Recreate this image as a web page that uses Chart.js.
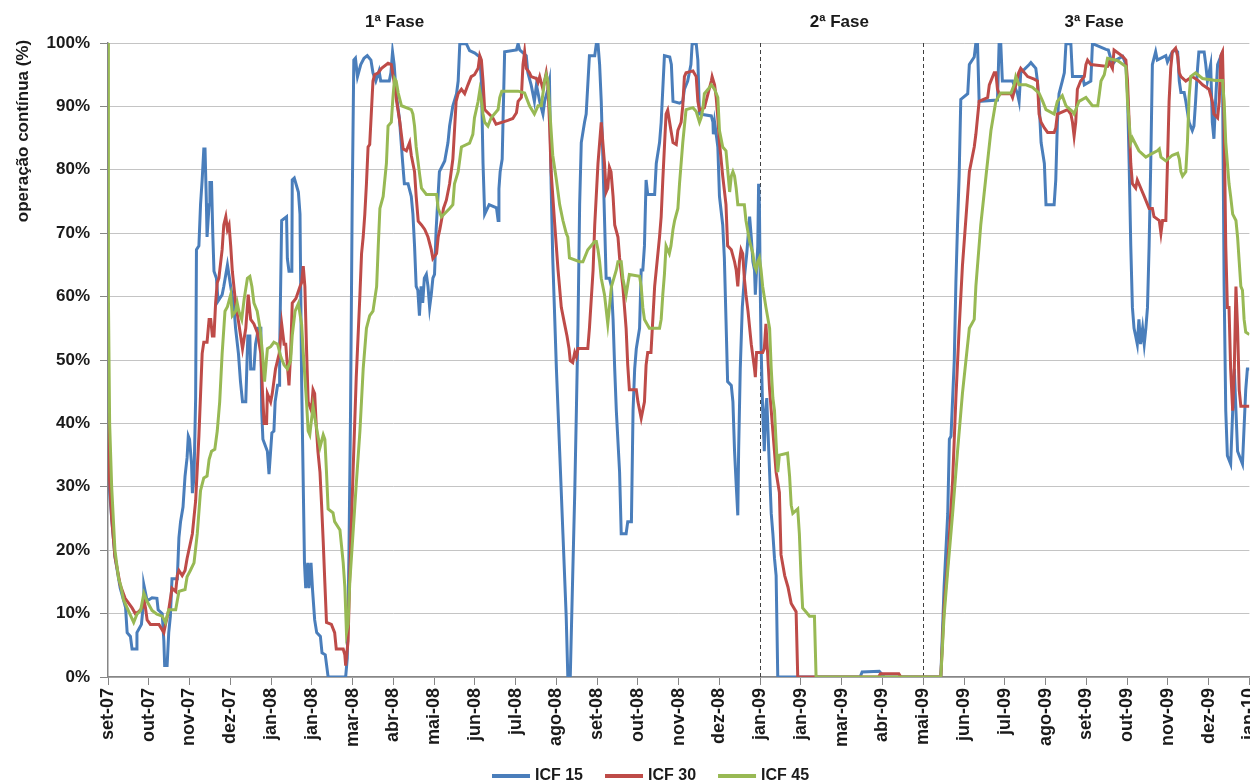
<!DOCTYPE html>
<html lang="pt">
<head>
  <meta charset="UTF-8">
  <title>Operação contínua - ICF</title>
  <script src="https://cdn.jsdelivr.net/npm/chart.js"></script>
  <style>
    html, body { margin: 0; padding: 0; background: #fff; overflow: hidden; }
    #wrap { width: 1274px; height: 784px; position: relative; }
  </style>
</head>
<body>
  <div id="wrap"><canvas id="icfChart"></canvas></div>

  <script>
    // eixo x: um tick por mês (índice 0 = set-07)
    const monthLabels = ['set-07', 'out-07', 'nov-07', 'dez-07', 'jan-08', 'jan-08', 'mar-08', 'abr-08',
      'mai-08', 'jun-08', 'jul-08', 'ago-08', 'set-08', 'out-08', 'nov-08', 'dez-08', 'jan-09', 'jan-09',
      'mar-09', 'abr-09', 'mai-09', 'jun-09', 'jul-09', 'ago-09', 'set-09', 'out-09', 'nov-09', 'dez-09', 'jan-10'];

    const phaseNames = ['1ª Fase', '2ª Fase', '3ª Fase'];
    const phaseBounds = [16, 20];

    // [mês, %]
    const icf15 = [[0,38],[0.03,30],[0.09,25],[0.17,19],[0.30,14],[0.43,11],[0.47,7],[0.55,6.4],[0.59,4.4],[0.69,4.4],[0.71,7],[0.82,8.3],[0.86,11],[0.88,14.5],[0.96,12],[1.08,12.5],[1.20,12.4],[1.23,10.6],[1.33,10],[1.37,5.7],[1.39,1.8],[1.45,1.8],[1.49,7],[1.53,9.6],[1.57,15.5],[1.70,15.5],[1.74,22],[1.78,24.5],[1.84,26.8],[1.89,31.7],[1.94,34.6],[1.97,38],[2.00,37.5],[2.05,33.6],[2.07,29],[2.11,31.5],[2.15,44],[2.17,67.4],[2.23,68],[2.27,74.5],[2.31,78.4],[2.35,83.3],[2.38,83.3],[2.41,75.8],[2.43,69.4],[2.48,74.5],[2.50,78],[2.54,78],[2.57,70],[2.60,64],[2.66,62.9],[2.70,59.3],[2.80,60.3],[2.84,61.6],[2.93,65],[3.01,61.6],[3.09,58.3],[3.13,55],[3.20,51],[3.25,46.6],[3.30,43.4],[3.38,43.4],[3.43,53.8],[3.48,53.8],[3.50,48.6],[3.58,48.6],[3.62,52.5],[3.69,55],[3.75,55],[3.77,42],[3.80,37.5],[3.91,35.6],[3.95,32],[4.02,38.5],[4.07,38.8],[4.10,43.4],[4.16,46],[4.20,46],[4.21,51],[4.26,72],[4.38,72.6],[4.40,66],[4.44,64],[4.51,64],[4.52,78.4],[4.57,78.7],[4.67,76.5],[4.71,73],[4.75,46.6],[4.82,18],[4.85,14],[4.90,18],[4.93,14],[4.98,18],[5.02,13.5],[5.07,9],[5.12,7],[5.21,6.4],[5.25,3.8],[5.33,3.5],[5.40,0],[5.83,0],[5.87,3],[5.91,19],[5.95,42],[5.99,74.5],[6.03,97.3],[6.07,97.6],[6.12,94.7],[6.20,96.6],[6.28,97.6],[6.36,98],[6.45,97.3],[6.50,95.3],[6.57,94],[6.65,95.6],[6.69,94],[6.90,94],[6.94,95.3],[6.98,98.6],[7.02,96.6],[7.07,92],[7.15,88],[7.23,81],[7.27,77.8],[7.36,77.8],[7.44,75.8],[7.48,73],[7.52,68],[7.56,61.6],[7.60,61],[7.64,57],[7.68,61.6],[7.72,59],[7.76,62.9],[7.81,63.5],[7.85,61.6],[7.89,58.3],[7.93,60.3],[7.97,62.9],[8.01,63.5],[8.05,70.6],[8.13,79.7],[8.26,81.4],[8.34,84.3],[8.38,86.9],[8.46,90.1],[8.55,92],[8.59,94],[8.63,99.9],[8.79,99.9],[8.87,98.8],[9.00,98.4],[9.12,97.8],[9.16,94],[9.20,81],[9.24,73],[9.35,74.5],[9.53,74],[9.57,72],[9.59,77],[9.62,79.7],[9.67,81.7],[9.69,87.5],[9.73,98.6],[10.02,98.9],[10.06,99.9],[10.10,98.9],[10.26,98],[10.30,95.3],[10.38,93.4],[10.46,90.8],[10.51,93.4],[10.59,90.8],[10.67,88.8],[10.71,90.8],[10.79,92.7],[10.83,94],[10.87,77.8],[10.91,66.1],[11.00,48.6],[11.08,35.6],[11.16,22.6],[11.24,9.6],[11.28,0],[11.34,0],[11.40,16],[11.45,29.1],[11.49,42],[11.53,55.7],[11.57,74.5],[11.61,84.3],[11.69,87.5],[11.73,88.8],[11.81,98],[11.94,98],[11.98,99.9],[12.02,99.9],[12.06,96.6],[12.10,90.8],[12.14,81.7],[12.22,62.9],[12.30,62.9],[12.35,61.6],[12.39,56.4],[12.43,48.6],[12.47,42],[12.55,32.3],[12.59,22.6],[12.71,22.6],[12.75,24.5],[12.84,24.5],[12.88,42],[12.92,48.6],[12.96,51.8],[13.04,55],[13.08,64.2],[13.12,64.2],[13.16,68],[13.20,78.4],[13.24,76.1],[13.41,76.1],[13.45,81],[13.53,84.3],[13.57,87.5],[13.65,98],[13.78,97.8],[13.82,96.6],[13.86,90.8],[14.02,90.5],[14.10,90.8],[14.14,92.7],[14.22,94],[14.30,96.6],[14.33,99.9],[14.43,99.9],[14.47,97.3],[14.51,88.8],[14.80,88.5],[14.84,87.5],[14.85,85.6],[14.88,87.5],[14.92,85.6],[14.96,83.6],[15.00,75.8],[15.08,71.3],[15.12,66.1],[15.16,56.4],[15.20,46.6],[15.29,46],[15.33,43.4],[15.37,35.6],[15.41,30.4],[15.45,25.5],[15.47,35.6],[15.51,48.6],[15.56,58.3],[15.61,62.9],[15.67,66.8],[15.74,72.6],[15.78,69.4],[15.82,65.5],[15.86,64.2],[15.88,60.3],[15.91,64.2],[15.94,68],[15.96,77.8],[15.98,74.5],[16.00,61.6],[16.02,52.5],[16.06,42],[16.10,35.6],[16.13,42],[16.16,44],[16.19,38.8],[16.23,32.3],[16.27,25.8],[16.31,22.6],[16.35,18.7],[16.39,16],[16.43,0],[18.45,0],[18.50,0.8],[18.92,0.9],[19.00,0.3],[19.05,0],[20.43,0],[20.51,14.2],[20.60,25.8],[20.64,37.5],[20.68,38],[20.76,49.9],[20.80,62.2],[20.84,71.3],[20.88,79.1],[20.92,91.1],[21.09,92],[21.13,96.6],[21.25,97.8],[21.29,100],[21.33,100],[21.37,90.8],[21.82,91],[21.86,99.9],[21.90,100],[21.94,94],[22.19,94],[22.31,92],[22.35,90.8],[22.39,95.3],[22.60,96.6],[22.64,96.9],[22.76,96],[22.80,94],[22.84,90.8],[22.89,84.3],[22.97,81],[23.01,74.5],[23.21,74.5],[23.25,78.4],[23.29,87.5],[23.33,92],[23.41,94],[23.46,95.3],[23.50,99.9],[23.62,99.9],[23.66,94.7],[23.91,94.7],[23.95,93.4],[24.03,93.7],[24.11,94],[24.15,99.9],[24.48,99],[24.54,98.9],[24.64,96.6],[24.72,97.3],[24.89,97.9],[24.97,96.6],[25.01,92],[25.05,81],[25.09,68],[25.13,58.3],[25.17,55],[25.21,53.8],[25.25,52.5],[25.29,56.4],[25.33,52.5],[25.38,55],[25.42,52.5],[25.46,55],[25.50,58.3],[25.54,68],[25.58,81],[25.62,96.6],[25.70,98.6],[25.74,97.3],[25.95,98],[25.99,97],[26.11,98.6],[26.19,98.9],[26.24,98.6],[26.28,94],[26.32,92.2],[26.40,92.2],[26.44,90.8],[26.52,87.5],[26.60,86.2],[26.64,86.9],[26.68,90.8],[26.72,95.3],[26.76,98.6],[26.89,98.6],[26.93,96.6],[26.97,94],[27.01,95.3],[27.05,96.6],[27.09,87.5],[27.13,84.9],[27.17,90.8],[27.22,96.6],[27.30,97.9],[27.34,95.3],[27.38,61.6],[27.42,42],[27.46,34.9],[27.54,33.6],[27.59,42],[27.63,48.6],[27.67,42],[27.71,35.6],[27.83,33.6],[27.91,45.3],[27.95,48.6],[28.0,48.6]];

    const icf30 = [[0,45],[0.03,32],[0.09,25],[0.17,19],[0.30,14.5],[0.42,12.4],[0.59,10.9],[0.67,10],[0.75,10.3],[0.84,10.9],[0.88,12.2],[0.92,10.9],[0.96,9],[1.04,8.3],[1.25,8.3],[1.37,7],[1.41,8.3],[1.49,10.6],[1.57,14],[1.66,13.5],[1.70,16],[1.74,16.8],[1.82,16],[1.89,16.8],[1.94,18.7],[2.07,22.6],[2.15,27.8],[2.23,38],[2.31,51],[2.35,52.8],[2.43,52.8],[2.48,56.4],[2.52,56.4],[2.56,53.8],[2.60,53.8],[2.64,59],[2.68,62.2],[2.72,62.9],[2.80,67.4],[2.84,71.3],[2.89,72.6],[2.93,70.6],[2.97,71.3],[3.01,68],[3.05,64],[3.13,59],[3.21,55.7],[3.30,51.8],[3.38,55],[3.44,60.3],[3.50,56.4],[3.58,55.7],[3.66,54.4],[3.75,51],[3.79,45],[3.83,40],[3.89,40],[3.91,44.7],[3.99,43.4],[4.03,44.7],[4.11,48.6],[4.20,51],[4.26,55.7],[4.32,52.5],[4.36,52.5],[4.44,46],[4.48,51],[4.52,59],[4.61,59.7],[4.71,61.6],[4.75,62.2],[4.79,64.8],[4.83,61.6],[4.87,51.8],[4.91,43.4],[4.99,42],[5.03,45.3],[5.07,44.7],[5.11,39.5],[5.15,35.6],[5.20,32.3],[5.24,27.1],[5.28,21.3],[5.32,14.8],[5.36,8.6],[5.48,8.3],[5.56,7],[5.60,4.4],[5.77,4.4],[5.81,3.5],[5.83,1.8],[5.89,5.7],[5.93,16],[6.01,32],[6.09,47.3],[6.18,60.3],[6.22,66.8],[6.26,69.4],[6.30,73],[6.34,77.8],[6.38,83.6],[6.42,84],[6.50,94],[6.54,95],[6.63,95.3],[6.71,96],[6.87,96.8],[6.95,96.6],[7.03,93.4],[7.08,90.8],[7.16,87.5],[7.24,83.3],[7.32,83],[7.40,84.3],[7.44,82.3],[7.52,79.7],[7.56,75.8],[7.61,71.9],[7.69,71.3],[7.77,70.6],[7.85,69.4],[7.93,67.4],[7.97,66],[8.06,66.8],[8.10,69.4],[8.14,70.6],[8.18,72],[8.23,73.9],[8.30,75.2],[8.38,77.8],[8.46,81.7],[8.50,86.2],[8.54,90.8],[8.59,92],[8.67,92.7],[8.75,92],[8.83,93.4],[8.91,94.7],[8.99,95],[9.08,96],[9.12,98],[9.16,97.3],[9.20,94],[9.24,89.5],[9.44,88.2],[9.52,87.2],[9.81,87.8],[9.93,88.1],[10.02,89],[10.06,90.8],[10.14,91.4],[10.18,96.6],[10.22,98.6],[10.26,96],[10.34,95.3],[10.38,94.7],[10.51,94.4],[10.55,93.8],[10.59,94.7],[10.67,92.7],[10.75,95.3],[10.79,93.4],[10.83,87.5],[10.87,79.7],[10.96,71.3],[11.04,64.2],[11.12,58.3],[11.20,55.7],[11.26,53.8],[11.31,51.8],[11.34,49.9],[11.40,49.6],[11.45,51.2],[11.49,50.5],[11.53,51.8],[11.77,51.8],[11.81,55],[11.90,64.2],[11.94,71.3],[12.02,81],[12.10,87.5],[12.18,81],[12.22,76.5],[12.26,77.1],[12.30,80.4],[12.34,79.7],[12.39,75.8],[12.43,71.3],[12.51,69.4],[12.55,66.1],[12.63,61.6],[12.67,58.3],[12.71,55],[12.75,49.2],[12.79,45.3],[12.96,45.3],[13.00,43.4],[13.08,40.8],[13.16,43.4],[13.20,49.2],[13.24,51.2],[13.32,51.2],[13.41,61.6],[13.45,64.2],[13.53,69.4],[13.57,72.6],[13.61,78.4],[13.65,83.6],[13.69,88.8],[13.73,89.4],[13.81,86.2],[13.86,84.3],[13.94,84],[13.98,86.2],[14.06,87.5],[14.10,90.1],[14.14,94.7],[14.18,95.3],[14.35,95.6],[14.43,94.7],[14.47,90.8],[14.51,89.4],[14.63,89.8],[14.72,92],[14.80,94],[14.82,94.7],[14.88,93.4],[14.92,91.4],[14.96,88.2],[15.00,84.3],[15.08,79],[15.16,74.5],[15.20,68],[15.29,67.4],[15.37,65.5],[15.41,64.2],[15.45,61.6],[15.49,65.5],[15.53,67.4],[15.57,66.8],[15.61,62.9],[15.65,60.3],[15.70,57.7],[15.78,52.5],[15.86,48.6],[15.88,47.3],[15.91,51.2],[16.06,51.2],[16.10,51.8],[16.14,55.7],[16.18,51.2],[16.23,45.3],[16.31,38.8],[16.39,32.3],[16.47,29.1],[16.51,19.3],[16.60,16],[16.68,14.2],[16.76,11.6],[16.88,10.3],[16.92,0],[18.90,0],[18.95,0.5],[19.40,0.5],[19.45,0],[20.43,0],[20.51,10.9],[20.60,18],[20.72,31],[20.80,44],[20.88,55],[20.96,64.8],[21.13,79.7],[21.25,83.6],[21.29,85.6],[21.37,90.8],[21.58,91.4],[21.62,93.4],[21.74,95.3],[21.78,95.3],[21.82,92.7],[21.86,92],[22.15,92],[22.19,91.4],[22.27,93.4],[22.34,95.3],[22.39,96],[22.56,94.7],[22.72,94.3],[22.80,94],[22.84,88.8],[22.89,87.5],[22.97,86.6],[23.05,85.9],[23.21,85.9],[23.25,86.6],[23.29,88.8],[23.54,89.5],[23.62,88.8],[23.66,87.5],[23.70,85.3],[23.74,87.5],[23.78,92.7],[23.86,94],[23.95,94.7],[23.99,96.6],[24.03,97.3],[24.11,96.6],[24.52,96.3],[24.56,97],[24.64,96],[24.68,98.9],[24.89,97.9],[24.97,97.3],[25.01,94],[25.05,87.5],[25.09,81],[25.13,77.8],[25.21,77.1],[25.25,78.4],[25.29,77.8],[25.42,75.8],[25.54,73.9],[25.62,73.9],[25.66,72.6],[25.79,72],[25.83,70],[25.87,72],[25.95,72],[25.99,81],[26.03,90.8],[26.07,96],[26.11,98.6],[26.19,99.2],[26.24,97.9],[26.28,95.3],[26.32,94.7],[26.44,94],[26.60,94.7],[26.76,94],[26.85,93.4],[27.01,92.7],[27.09,90.8],[27.13,88.8],[27.22,88.2],[27.26,90.8],[27.30,98],[27.34,98.6],[27.38,87.5],[27.42,68],[27.46,58.3],[27.50,58.3],[27.54,48.6],[27.59,42],[27.63,48.6],[27.67,61.6],[27.71,55],[27.75,45.3],[27.79,42.7],[28.0,42.7]];

    const icf45 = [[0,100],[0.01,60],[0.04,40],[0.09,30],[0.17,20],[0.26,15.5],[0.31,14.5],[0.38,12.2],[0.51,10.3],[0.63,8.6],[0.71,9.9],[0.80,10.5],[0.88,13.2],[0.96,11.9],[1.08,10.5],[1.20,9.9],[1.33,9.6],[1.41,8.6],[1.49,10.6],[1.66,10.6],[1.74,13.5],[1.89,13.8],[1.94,15.8],[2.02,16.8],[2.11,18],[2.19,22.6],[2.27,29.4],[2.35,31.4],[2.43,31.7],[2.48,34.3],[2.54,35.6],[2.62,35.9],[2.68,38.8],[2.74,43.4],[2.80,51],[2.87,57.7],[2.93,58.4],[3.01,60.3],[3.05,57],[3.13,57.7],[3.17,59],[3.21,57.7],[3.28,56.4],[3.34,59.6],[3.42,62.9],[3.48,63.2],[3.53,61.6],[3.58,59],[3.66,57.7],[3.73,55],[3.79,51],[3.84,46.6],[3.91,51.8],[3.99,52.1],[4.07,52.8],[4.16,52.5],[4.24,50.5],[4.32,49.2],[4.40,48.6],[4.48,49.9],[4.52,53.9],[4.59,57.7],[4.67,58.9],[4.75,55.6],[4.79,51.2],[4.83,47.3],[4.87,43.4],[4.91,38.8],[4.95,38.2],[5.03,42.7],[5.11,39.5],[5.20,36.2],[5.28,38.2],[5.32,37.5],[5.36,32.3],[5.40,26.5],[5.52,25.9],[5.56,24.5],[5.69,23.2],[5.73,20.6],[5.77,18],[5.81,14.2],[5.85,7],[5.89,8.3],[5.93,14.8],[6.01,22.6],[6.09,30.4],[6.18,38.8],[6.26,48.6],[6.34,55],[6.42,57],[6.50,57.7],[6.59,61.6],[6.63,68],[6.67,73.9],[6.75,75.8],[6.83,81],[6.87,86.9],[6.95,87.5],[6.99,91.4],[7.03,94.4],[7.07,94],[7.12,92.1],[7.20,90.1],[7.44,89.5],[7.48,88.8],[7.52,86.9],[7.56,83.6],[7.65,79],[7.69,77.1],[7.81,76.1],[8.06,76.1],[8.10,73.9],[8.18,72.6],[8.38,73.9],[8.46,74.5],[8.50,77.8],[8.59,79.7],[8.67,83.6],[8.87,84.2],[8.95,85.6],[8.99,88.2],[9.08,90.8],[9.12,92.5],[9.16,91],[9.20,88.8],[9.24,87.5],[9.32,86.9],[9.40,88.2],[9.57,89.5],[9.61,91.4],[9.66,92.4],[10.06,92.4],[10.22,92.1],[10.34,90.1],[10.46,88.8],[10.55,90.1],[10.63,90.1],[10.71,94],[10.75,95],[10.79,94],[10.83,90.1],[10.91,82.3],[11.00,78.4],[11.08,74.5],[11.16,72],[11.24,70],[11.28,69.4],[11.32,66.1],[11.57,65.5],[11.65,65.5],[11.77,67.4],[11.94,68.7],[11.98,68.7],[12.02,67.4],[12.06,65.5],[12.10,62.9],[12.18,60.3],[12.26,55.7],[12.35,61.6],[12.47,64.2],[12.51,65.5],[12.59,65.5],[12.63,62.9],[12.71,60.3],[12.79,63.5],[13.04,63.2],[13.08,61.6],[13.12,58.3],[13.16,56.4],[13.28,55],[13.53,55],[13.57,56.4],[13.61,60.3],[13.65,63.5],[13.69,68],[13.77,66.8],[13.81,68],[13.86,70.6],[13.90,72],[13.98,73.9],[14.02,77.8],[14.10,84.3],[14.18,89.5],[14.35,89.8],[14.43,89.2],[14.51,87.5],[14.55,88.2],[14.59,89.5],[14.63,92],[14.72,92.7],[14.80,93.4],[14.88,92.7],[14.96,91.4],[15.00,86.2],[15.08,83.6],[15.16,83],[15.25,76.5],[15.29,79],[15.33,79.7],[15.37,79],[15.41,77.1],[15.45,74.5],[15.61,74.5],[15.65,72],[15.74,68.7],[15.82,66.8],[15.86,64.8],[15.90,64.2],[15.94,65.5],[15.98,66.1],[16.02,64.2],[16.06,61.6],[16.14,58.3],[16.23,55],[16.27,48.6],[16.31,44],[16.35,42],[16.39,36.9],[16.43,32.3],[16.47,35],[16.67,35.3],[16.72,31.7],[16.76,27.1],[16.80,25.8],[16.92,26.5],[16.96,22.6],[17.00,16],[17.04,10.9],[17.12,10.3],[17.21,9.6],[17.33,9.6],[17.37,0],[20.43,0],[20.51,9.6],[20.60,16.8],[20.72,25.8],[20.84,35.6],[20.96,44.7],[21.13,55],[21.25,56.4],[21.29,61.6],[21.41,71.3],[21.54,79.1],[21.66,86.2],[21.78,90.8],[21.90,92.1],[22.15,92.1],[22.23,93.4],[22.27,94.7],[22.35,93.4],[22.52,93.4],[22.68,93],[22.84,92.1],[22.93,90.8],[23.01,89.5],[23.21,88.8],[23.29,90.8],[23.41,91.7],[23.50,90.1],[23.66,89.2],[23.70,88.8],[23.82,90.8],[23.99,91.4],[24.15,90.1],[24.28,90.1],[24.32,92],[24.36,94],[24.44,95],[24.52,97.6],[24.77,97.2],[24.97,96.3],[25.01,90.8],[25.05,87.5],[25.09,84.3],[25.13,85],[25.29,83],[25.46,82],[25.62,82.6],[25.74,83],[25.79,83.3],[25.83,82],[25.95,81.4],[26.11,82.3],[26.24,82.6],[26.28,81.7],[26.32,79.7],[26.36,79],[26.44,79.7],[26.48,84.3],[26.52,91.4],[26.56,94.7],[26.68,95.3],[26.85,94.4],[27.17,94.1],[27.34,94.1],[27.38,90.8],[27.42,84.3],[27.50,77.8],[27.54,75.8],[27.59,73],[27.67,72],[27.71,69.4],[27.75,65.5],[27.79,61.6],[27.83,61],[27.87,56.4],[27.91,54.4],[28.0,54]];

    const FONT = "'Liberation Sans', Arial, sans-serif";
    const toPoints = arr => arr.map(p => ({ x: p[0], y: p[1] }));

    const series = [
      { label: 'ICF 15', data: icf15, color: '#4a7ebb' },
      { label: 'ICF 30', data: icf30, color: '#be4b48' },
      { label: 'ICF 45', data: icf45, color: '#98b954' }
    ];

    // linhas de fase, títulos, título do eixo y e legenda
    const extras = {
      id: 'extras',
      beforeDatasetsDraw(chart) {
        const { ctx, chartArea: a, scales: { x } } = chart;
        ctx.save();
        ctx.strokeStyle = '#404040';
        ctx.lineWidth = 1;
        ctx.setLineDash([4, 3]);
        phaseBounds.forEach(m => {
          const px = Math.round(x.getPixelForValue(m)) + 0.5;
          ctx.beginPath();
          ctx.moveTo(px, a.top);
          ctx.lineTo(px, a.bottom);
          ctx.stroke();
        });
        ctx.restore();
      },
      afterDraw(chart) {
        const { ctx, scales: { x } } = chart;
        ctx.save();
        ctx.fillStyle = '#1a1a1a';
        ctx.font = 'bold 17px ' + FONT;
        ctx.textAlign = 'center';
        ctx.textBaseline = 'middle';
        const phaseX = [7.03, 17.94, 24.19];
        phaseNames.forEach((t, i) => ctx.fillText(t, x.getPixelForValue(phaseX[i]), 22));

        ctx.save();
        ctx.translate(23, 131);
        ctx.rotate(-Math.PI / 2);
        ctx.font = 'bold 17px ' + FONT;
        ctx.fillText('operação contínua (%)', 0, 0);
        ctx.restore();

        ctx.font = 'bold 16px ' + FONT;
        ctx.textAlign = 'left';
        let lx = 492;
        const ly = 776;
        series.forEach(s => {
          ctx.strokeStyle = s.color;
          ctx.lineWidth = 4;
          ctx.beginPath();
          ctx.moveTo(lx, ly);
          ctx.lineTo(lx + 38, ly);
          ctx.stroke();
          ctx.fillText(s.label, lx + 43, ly);
          lx += 43 + ctx.measureText(s.label).width + 22;
        });
        ctx.restore();
      }
    };

    const ctx = document.getElementById('icfChart').getContext('2d');
    new Chart(ctx, {
      type: 'line',
      data: {
        datasets: series.map((s, i) => ({
          label: s.label,
          data: toPoints(s.data),
          borderColor: s.color,
          backgroundColor: s.color,
          borderWidth: 3,
          pointRadius: 0,
          tension: 0,
          order: 3 - i
        }))
      },
      options: {
        responsive: true,
        maintainAspectRatio: false,
        animation: false,
        layout: { padding: { top: 43, left: 0, right: 0, bottom: 0 } },
        plugins: {
          legend: { display: false },
          tooltip: { enabled: false }
        },
        scales: {
          x: {
            type: 'linear',
            min: 0,
            max: 28,
            ticks: {
              stepSize: 1,
              autoSkip: false,
              maxRotation: 90,
              minRotation: 90,
              padding: 3,
              color: '#1a1a1a',
              font: { family: FONT, size: 18, weight: 'bold' },
              callback: v => monthLabels[v]
            },
            grid: { drawOnChartArea: false, tickLength: 8, color: '#868686' },
            border: { color: '#868686', width: 1.5 },
            afterFit: s => { s.height = 107; }
          },
          y: {
            min: 0,
            max: 100,
            ticks: {
              stepSize: 10,
              padding: 10,
              color: '#1a1a1a',
              font: { family: FONT, size: 17, weight: 'bold' },
              callback: v => v + '%'
            },
            grid: { color: '#c4c4c4', tickLength: 8, tickColor: '#868686' },
            border: { color: '#868686', width: 1.5 },
            afterFit: s => { s.width = 108; }
          }
        }
      },
      plugins: [extras]
    });
  </script>
</body>
</html>
